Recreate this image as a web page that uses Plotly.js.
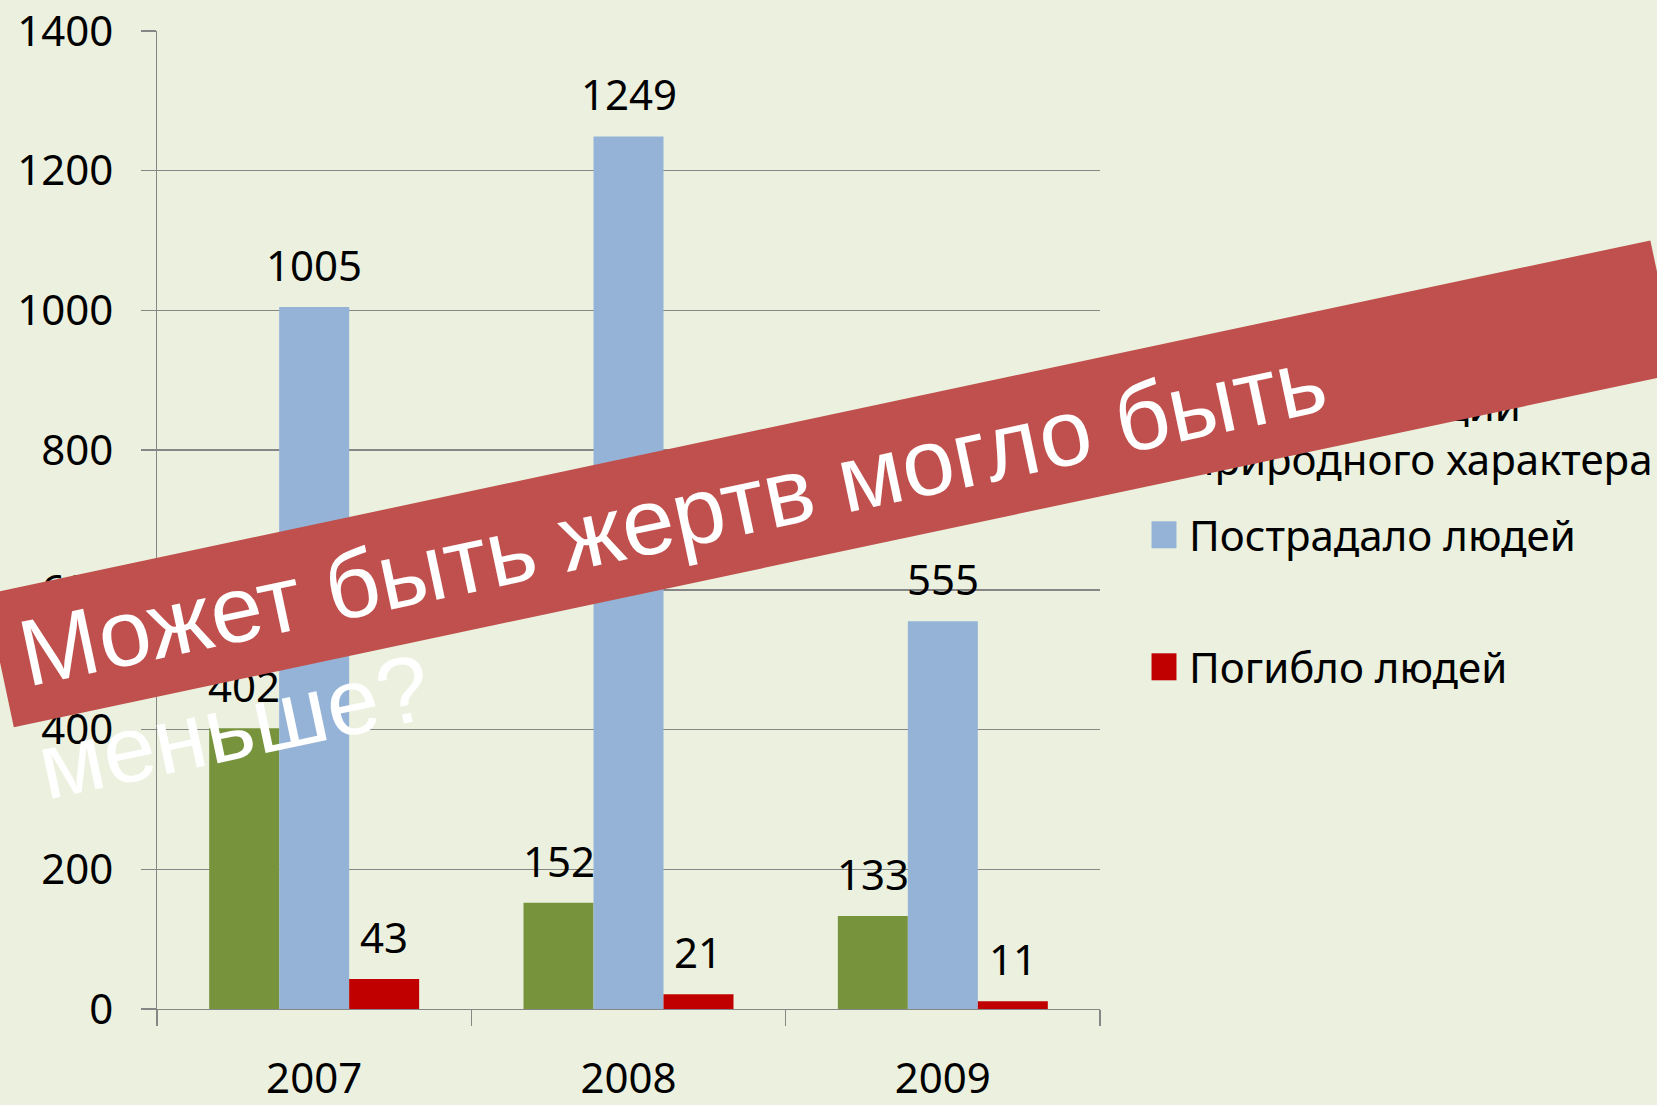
<!DOCTYPE html>
<html>
<head>
<meta charset="utf-8">
<script src="https://cdn.plot.ly/plotly-3.0.1.min.js"></script>
<style>
html, body { margin: 0; padding: 0; background: #EBF1DE; }
#chart { width: 1657px; height: 1105px; }
</style>
</head>
<body>
<div id="chart"></div>
<script>
// ---- data ----
const years = ['2007', '2008', '2009'];
const emergencies = [402, 152, 133];
const injured = [1005, 1249, 555];
const killed = [43, 21, 11];
const seriesNames = ['Чрезв. ситуации<br>природного характера', 'Пострадало людей', 'Погибло людей'];
const yTickVals = [0, 200, 400, 600, 800, 1000, 1200, 1400];
const bannerLine1 = 'Может быть жертв могло быть';
const bannerLine2 = 'меньше?';

// ---- style ----
const colors = ['#77933C', '#95B3D7', '#C00000'];
const bg = '#EBF1DE';
const grid = '#868686';
const FONT = 'Noto Sans, Open Sans, sans-serif';
const BANNER_FONT = 'Liberation Sans, Arial, sans-serif';

// plot-area pixel box (for converting decoration positions to paper units)
const L = 157, R = 1100, T = 31, B = 1009;
const px = x => (x - L) / (R - L);
const py = y => 1 - (y - T) / (B - T);

const seriesValues = [emergencies, injured, killed];
const legendIds = ['legend', 'legend2', 'legend3'];
const BARGAP = 0.332;

const traces = seriesValues.map((vals, i) => ({
  type: 'bar',
  x: years,
  y: vals,
  name: seriesNames[i],
  marker: { color: colors[i] },
  legend: legendIds[i],
  hoverinfo: 'skip'
}));

// value labels placed above each bar, anchored on the data scales
const catWidthPx = (R - L) / years.length;
const barWidthPx = catWidthPx * (1 - BARGAP) / seriesValues.length;
const labelAnnotations = [];
seriesValues.forEach((vals, i) => {
  vals.forEach((v, j) => {
    labelAnnotations.push({
      xref: 'x', yref: 'y', x: j, y: v,
      xanchor: 'center', yanchor: 'bottom',
      xshift: (i - 1) * barWidthPx, yshift: 12,
      text: String(v), showarrow: false,
      font: { family: FONT, size: 42, color: '#000' }
    });
  });
});

const legendBase = {
  xanchor: 'left', yanchor: 'middle',
  font: { family: FONT, size: 42, color: '#000' },
  bgcolor: 'rgba(0,0,0,0)', borderwidth: 0,
  itemwidth: 40, valign: 'middle'
};

const angle = -12;
const layout = {
  width: 1657, height: 1105,
  paper_bgcolor: bg, plot_bgcolor: bg,
  margin: { l: L, r: 1657 - R, t: T, b: 1105 - B, pad: 0, autoexpand: false },
  barmode: 'group', bargap: BARGAP, bargroupgap: 0,
  showlegend: true,
  legend: Object.assign({}, legendBase, { x: px(1139), y: py(432) }),
  legend2: Object.assign({}, legendBase, { x: px(1139), y: py(535) }),
  legend3: Object.assign({}, legendBase, { x: px(1139), y: py(667) }),
  xaxis: {
    type: 'category', range: [-0.5, 2.5],
    tickson: 'boundaries', ticks: 'outside', ticklen: 16,
    tickcolor: grid, tickwidth: 1.3,
    showline: true, linecolor: grid, linewidth: 1.3,
    showgrid: false, zeroline: false,
    tickfont: { family: FONT, size: 42, color: '#000' },
    ticklabelstandoff: 32
  },
  yaxis: {
    range: [0, 1400], tickvals: yTickVals, ticktext: yTickVals.map(String),
    ticks: 'outside', ticklen: 15, tickcolor: grid, tickwidth: 1.3,
    showline: true, linecolor: grid, linewidth: 1.3,
    showgrid: true, gridcolor: grid, gridwidth: 1.3, zeroline: false,
    tickfont: { family: FONT, size: 42, color: '#000' },
    ticklabelstandoff: 19
  },
  annotations: labelAnnotations.concat([
    { // red banner strip
      xref: 'paper', yref: 'paper',
      x: px(831.5), y: py(483.5), xanchor: 'center', yanchor: 'middle',
      text: '&nbsp;', showarrow: false, textangle: angle,
      width: 1702, height: 136, borderpad: 0, borderwidth: 0,
      bgcolor: '#C0504D',
      font: { family: BANNER_FONT, size: 20, color: '#C0504D' }
    },
    { // banner text, first line
      xref: 'paper', yref: 'paper',
      x: px(672), y: py(516), xanchor: 'center', yanchor: 'middle',
      text: bannerLine1, showarrow: false, textangle: angle,
      font: { family: BANNER_FONT, size: 94, color: '#FFFFFF' }
    },
    { // banner text, second line
      xref: 'paper', yref: 'paper',
      x: px(234), y: py(726), xanchor: 'center', yanchor: 'middle',
      text: bannerLine2, showarrow: false, textangle: angle,
      font: { family: BANNER_FONT, size: 94, color: '#FFFFFF' }
    }
  ])
};

Plotly.newPlot('chart', traces, layout, { displayModeBar: false, staticPlot: true }).then(gd => {
  // enlarge legend swatches to match the original squares
  gd.querySelectorAll('.legendpoints path').forEach(p => {
    const t = p.getAttribute('transform') || '';
    p.setAttribute('transform', t + ' scale(2.08,2.25)');
  });
});
</script>
</body>
</html>
